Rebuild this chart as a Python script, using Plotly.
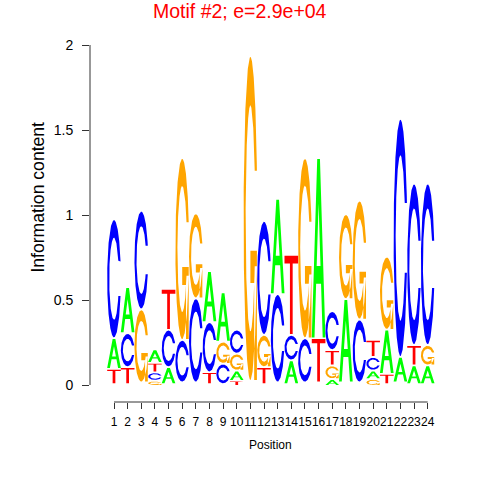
import numpy as np
import plotly.graph_objects as go

# ---------------- data (information content per letter, bits) ----------------
positions = list(range(1, 25))
tick_labels = [str(p) for p in positions]
y_ticks = [0, 0.5, 1, 1.5, 2]
y_tick_labels = ["0", "0.5", "1", "1.5", "2"]

A = [0.17, 0.26, 0.00, 0.07, 0.09, 0.00, 0.00, 0.29, 0.28, 0.05, 0.00, 0.00,
     0.55, 0.13, 0.00, 1.05, 0.03, 0.48, 0.00, 0.04, 0.25, 0.14, 0.10, 0.10]
C = [0.69, 0.19, 0.57, 0.04, 0.21, 0.24, 0.485, 0.285, 0.11, 0.13, 0.00, 0.66,
     0.51, 0.14, 0.25, 0.00, 0.22, 0.00, 0.36, 0.07, 0.00, 1.39, 0.94, 0.94]
G = [0.00, 0.00, 0.42, 0.02, 0.00, 1.06, 0.49, 0.00, 0.12, 0.09, 1.90, 0.18,
     0.00, 0.00, 1.05, 0.00, 0.07, 0.49, 0.69, 0.03, 0.42, 0.00, 0.00, 0.11]
T = [0.08, 0.09, 0.00, 0.045, 0.23, 0.00, 0.00, 0.06, 0.00, 0.02, 0.00, 0.09,
     0.00, 0.46, 0.00, 0.25, 0.08, 0.00, 0.00, 0.09, 0.05, 0.00, 0.11, 0.00]

letters = ["A", "C", "G", "T"]
colors = {"A": "#00FF00", "C": "#0000FF", "G": "#FFA500", "T": "#FF0000"}
title_text = "Motif #2; e=2.9e+04"

# ---------------- glyph outlines in a unit box (seqLogo style) ----------------
def c_outline():
    a1 = np.linspace(0.3 + np.pi / 2, np.pi, 100)
    a2 = np.linspace(np.pi, 1.5 * np.pi, 100)
    xl1, yl1 = 0.5 + 0.5 * np.sin(a1), 0.5 + 0.5 * np.cos(a1)
    xl2, yl2 = 0.5 + 0.5 * np.sin(a2), 0.5 + 0.5 * np.cos(a2)
    xl, yl = np.concatenate([xl1, xl2]), np.concatenate([yl1, yl2])
    x = np.concatenate([xl, xl[::-1]])
    y = np.concatenate([yl, 1 - yl[::-1]])
    xi1, yi1 = 0.5 + 0.35 * np.sin(a1), 0.5 + 0.35 * np.cos(a1)
    m = yi1 <= yl1.max()
    xi1, yi1 = xi1[m], yi1[m].copy()
    yi1[0] = yl1.max()
    xi2, yi2 = 0.5 + 0.35 * np.sin(a2), 0.5 + 0.35 * np.cos(a2)
    xi, yi = np.concatenate([xi1, xi2]), np.concatenate([yi1, yi2])
    x1 = np.concatenate([xi, xi[::-1]])
    y1 = np.concatenate([yi, 1 - yi[::-1]])
    x = np.concatenate([x, x1[::-1]])
    y = np.concatenate([y, y1[::-1]])
    return x, y, xl1.max()


def glyph(letter):
    """list of (x, y) polygons in unit box"""
    if letter == "A":
        x = np.array([0, 4, 6, 10, 8, 6.8, 3.2, 2, 0]) * 0.1
        y = np.array([0, 10, 10, 0, 0, 3, 3, 0, 0]) * 0.1
        return [(x, y)]
    if letter == "T":
        x = np.array([0, 10, 10, 6, 6, 4, 4, 0]) * 0.1
        y = np.array([10, 10, 9, 9, 0, 0, 9, 9]) * 0.1
        return [(x, y)]
    if letter == "C":
        x, y, _ = c_outline()
        return [(x, y)]
    if letter == "G":
        x, y, r1 = c_outline()
        h1 = 0.4
        xa = np.array([r1, 0.5, 0.5, r1 - 0.2, r1 - 0.2, r1, r1])
        ya = np.array([h1, h1, h1 - 0.1, h1 - 0.1, 0, 0, h1])
        return [(x, y), (xa, ya)]


A_HOLE = (np.array([3.6, 5, 6.4, 3.6]) * 0.1, np.array([4, 7.5, 4, 4]) * 0.1)

# ---------------- stack letters per position ----------------
heights = {"A": A, "C": C, "G": G, "T": T}
paths = {k: ([], []) for k in letters}
hole_x, hole_y = [], []
wt = 1.0
for i, pos in enumerate(positions):
    hts = [heights[k][i] for k in letters]
    order = sorted(range(4), key=lambda j: (hts[j], j))
    ypos = 0.0
    for j in order:
        k, ht = letters[j], hts[j]
        if ht > 0:
            x0 = pos - 0.5
            for gx, gy in glyph(k):
                paths[k][0].extend(list(x0 + wt * gx) + [None])
                paths[k][1].extend(list(ypos + ht * gy) + [None])
            if k == "A":
                hole_x.extend(list(x0 + wt * A_HOLE[0]) + [None])
                hole_y.extend(list(ypos + ht * A_HOLE[1]) + [None])
        ypos += ht + 0.01

fig = go.Figure()
for k in letters:
    fig.add_trace(go.Scatter(
        x=paths[k][0], y=paths[k][1], mode="lines", fill="toself",
        fillcolor=colors[k], line=dict(width=0, color=colors[k]),
        hoverinfo="skip", showlegend=False, name=k))
fig.add_trace(go.Scatter(
    x=hole_x, y=hole_y, mode="lines", fill="toself", fillcolor="white",
    line=dict(width=0, color="white"), hoverinfo="skip", showlegend=False))

# ---------------- layout ----------------
W = H = 480
PL, PR, PT, PB = 90, 450, 40, 402          # plot area in pixels
L, TOP = PL, PT
R, B = W - PR, H - PB
pw, ph = PR - PL, PB - PT

px_per_pos = (427.7 - 114) / 23
x_left = positions[0] - (114 - PL) / px_per_pos
x_right = positions[0] + (PR - 114) / px_per_pos
px_per_bit = 170.0
y_bottom = -(PB - 385) / px_per_bit
y_top = (385 - PT) / px_per_bit

def px(xp):
    return (xp - PL) / pw

def py(yp):
    return (PB - yp) / ph

font = "Liberation Sans, Arial, Helvetica, sans-serif"
fig.update_layout(
    width=W, height=H,
    margin=dict(l=L, r=R, t=TOP, b=B, autoexpand=False),
    plot_bgcolor="white", paper_bgcolor="white",
    font=dict(family=font, color="black"),
    xaxis=dict(range=[x_left, x_right], showgrid=False, zeroline=False,
               showline=False, tickmode="array", tickvals=positions,
               ticktext=tick_labels, ticks="outside", ticklen=6,
               tickwidth=1, tickcolor="#333", tickfont=dict(size=12),
               tickangle=0, ticklabelstandoff=3, fixedrange=True),
    yaxis=dict(range=[y_bottom, y_top], showgrid=False, zeroline=False,
               showline=False, tickmode="array", tickvals=y_ticks,
               ticktext=y_tick_labels, ticks="outside", ticklen=7,
               tickwidth=1, tickcolor="#333", tickfont=dict(size=14),
               ticklabelstandoff=6, fixedrange=True),
    shapes=[
        dict(type="line", xref="paper", yref="y", x0=0, x1=0,
             y0=y_ticks[0], y1=y_ticks[-1], line=dict(color="#333", width=1)),
        dict(type="line", xref="x", yref="paper", x0=positions[0],
             x1=positions[-1], y0=0, y1=0, line=dict(color="#333", width=1)),
    ],
    annotations=[
        dict(text=title_text, xref="paper", yref="paper",
             x=px(240), y=py(11), xanchor="center", yanchor="middle",
             showarrow=False,
             font=dict(size=19.5, color="#FF0000", family=font)),
        dict(text="Position", xref="paper", yref="paper",
             x=px(270), y=py(445), xanchor="center", yanchor="middle",
             showarrow=False, font=dict(size=12, color="black", family=font)),
        dict(text="Information content", xref="paper", yref="paper",
             x=px(38), y=py(197.6), xanchor="center", yanchor="middle",
             showarrow=False, textangle=-90,
             font=dict(size=17.6, color="black", family=font)),
    ],
)

fig.write_html("out.html",
               config={"displayModeBar": False, "staticPlot": True},
               post_script="document.body.style.margin='0px';"
                           "document.body.style.overflow='hidden';")
